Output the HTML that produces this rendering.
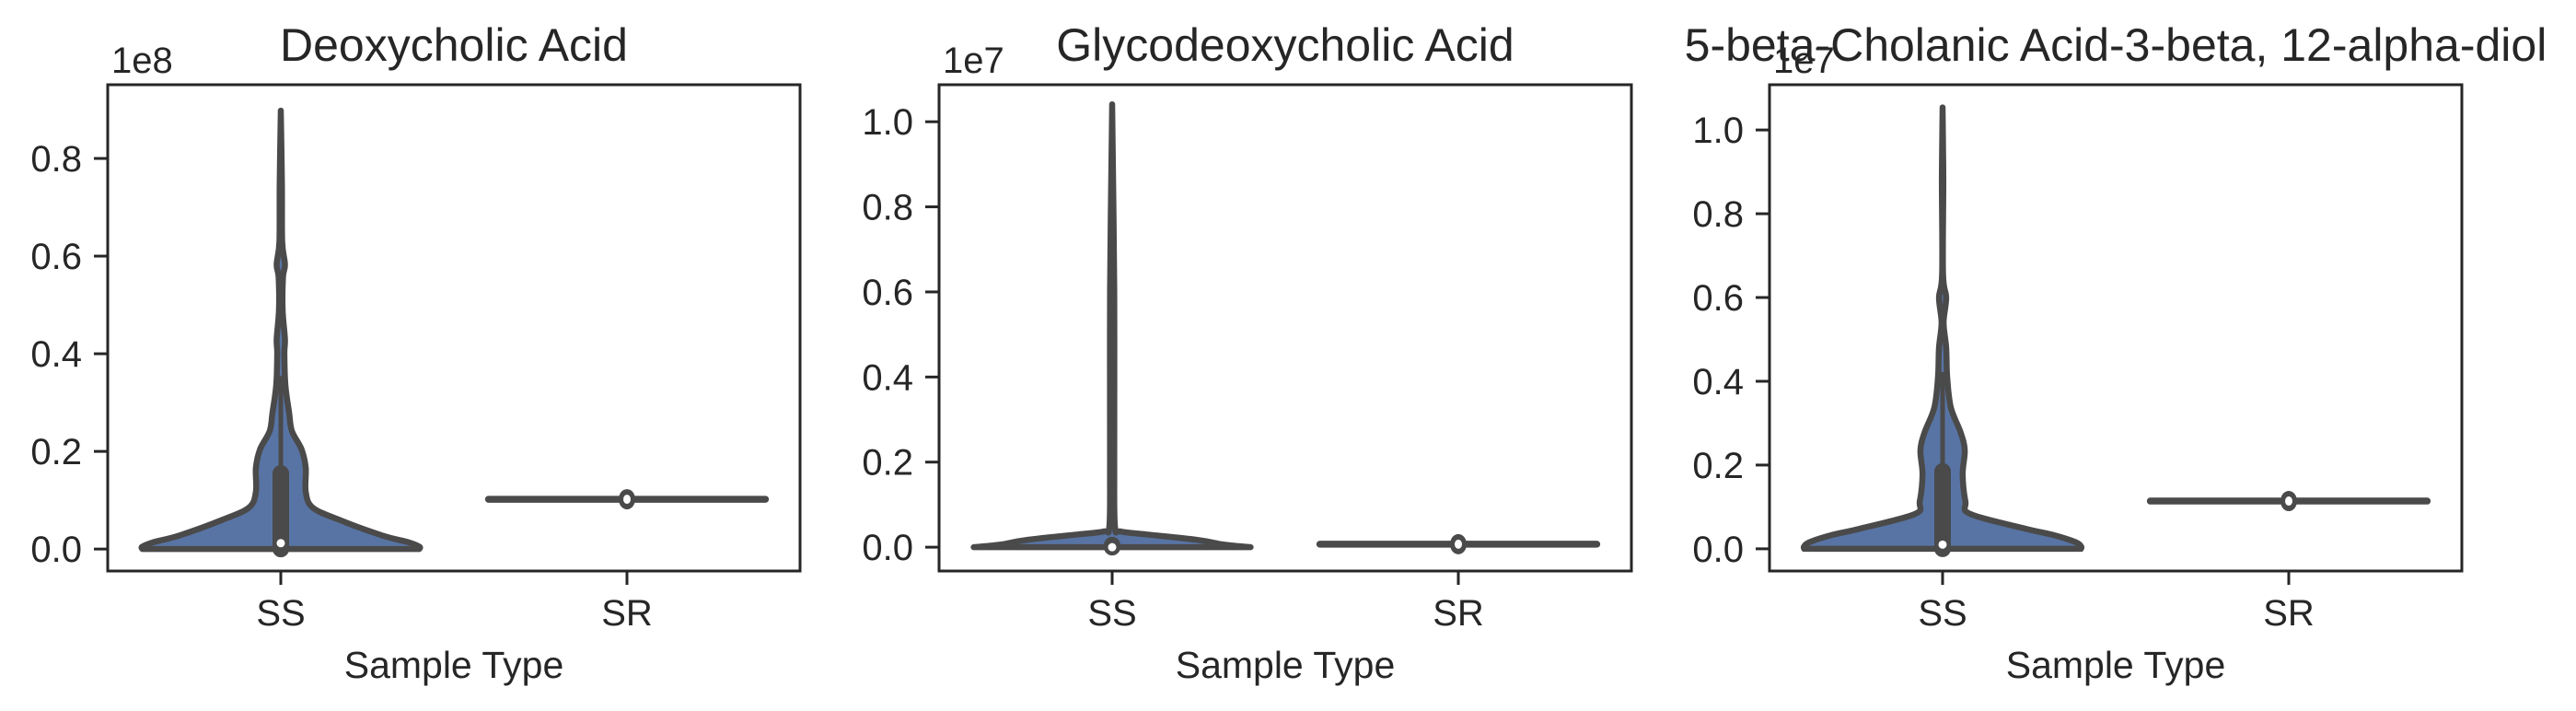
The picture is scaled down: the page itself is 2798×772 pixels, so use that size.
<!DOCTYPE html>
<html><head><meta charset="utf-8"><style>
html,body{margin:0;padding:0;background:#fff;}
svg{display:block;font-family:"Liberation Sans",Arial,sans-serif;}
</style></head><body>
<svg id="fig" width="2798" height="772" viewBox="0 0 2798 772" xmlns="http://www.w3.org/2000/svg"></svg>
<script>
// ---- data ----
const categories = ["SS", "SR"];
const titles = ["Deoxycholic Acid", "Glycodeoxycholic Acid", "5-beta-Cholanic Acid-3-beta, 12-alpha-diol"];
const exponents = ["1e8", "1e7", "1e7"];
const yMins = [-0.045, -0.056, -0.053];
const yMaxs = [0.951, 1.087, 1.108];
const tickLabels1 = ["0.0", "0.2", "0.4", "0.6", "0.8"];
const tickLabels2 = ["0.0", "0.2", "0.4", "0.6", "0.8", "1.0"];
const tickLabels3 = ["0.0", "0.2", "0.4", "0.6", "0.8", "1.0"];
const tickValues1 = [0, 0.2, 0.4, 0.6, 0.8];
const tickValues2 = [0, 0.2, 0.4, 0.6, 0.8, 1.0];
const tickValues3 = [0, 0.2, 0.4, 0.6, 0.8, 1.0];
// SS violin density profiles (value, relative half-width)
const ssVals1 = [0, 0.005, 0.014, 0.028, 0.06, 0.085, 0.117, 0.166, 0.204, 0.242, 0.28, 0.336, 0.4, 0.43, 0.49, 0.557, 0.583, 0.63, 0.75, 0.898];
const ssWid1  = [1, 1, 0.92, 0.73, 0.42, 0.23, 0.18, 0.18, 0.15, 0.08, 0.06, 0.033, 0.026, 0.03, 0.013, 0.016, 0.03, 0.01, 0.008, 0];
const ssVals2 = [0, 0.006, 0.017, 0.03, 0.037, 0.05, 0.2, 0.6, 1.041];
const ssWid2  = [1, 0.81, 0.62, 0.25, 0.06, 0.02, 0.015, 0.015, 0];
const ssVals3 = [0, 0.006, 0.016, 0.033, 0.048, 0.083, 0.113, 0.178, 0.235, 0.278, 0.337, 0.41, 0.48, 0.54, 0.6, 0.657, 0.88, 1.054];
const ssWid3  = [1, 1, 0.96, 0.8, 0.6, 0.2, 0.165, 0.145, 0.16, 0.13, 0.06, 0.033, 0.026, 0.007, 0.026, 0.003, 0.005, 0];
// SS box stats: q1, q3, whisker top, median
const ssBox1 = [0, 0.155, 0.35, 0.012];
const ssBox2 = [0, 0.005, 0.012, 0.0];
const ssBox3 = [0, 0.185, 0.417, 0.01];
// SR values (near constant)
const srValues = [0.102, 0.007, 0.114];

// ---- layout ----
const NS = "http://www.w3.org/2000/svg";
const svg = document.getElementById("fig");
const panelLefts = [117, 1020, 1922];
const panelW = 752, plotTop = 92, plotBottom = 620;
const INK = "#262626", VC = "#4a4a4a", FILL = "#5874a4";
function mk(tag, attrs, parent) {
  const e = document.createElementNS(NS, tag);
  for (const k in attrs) e.setAttribute(k, attrs[k]);
  (parent || svg).appendChild(e);
  return e;
}
function smoothSeg(pts) {
  // Catmull-Rom to cubic bezier, returns path commands (without initial M)
  let d = "";
  for (let i = 0; i < pts.length - 1; i++) {
    const p0 = pts[Math.max(0, i - 1)], p1 = pts[i], p2 = pts[i + 1], p3 = pts[Math.min(pts.length - 1, i + 2)];
    const c1x = p1[0] + (p2[0] - p0[0]) / 6, c1y = p1[1] + (p2[1] - p0[1]) / 6;
    const c2x = p2[0] - (p3[0] - p1[0]) / 6, c2y = p2[1] - (p3[1] - p1[1]) / 6;
    d += " C" + c1x.toFixed(1) + "," + c1y.toFixed(1) + " " + c2x.toFixed(1) + "," + c2y.toFixed(1) + " " + p2[0].toFixed(1) + "," + p2[1].toFixed(1);
  }
  return d;
}
const panels = [
  {vals: ssVals1, wid: ssWid1, box: ssBox1, ticks: tickValues1, labels: tickLabels1},
  {vals: ssVals2, wid: ssWid2, box: ssBox2, ticks: tickValues2, labels: tickLabels2},
  {vals: ssVals3, wid: ssWid3, box: ssBox3, ticks: tickValues3, labels: tickLabels3}
];
panels.forEach((p, i) => {
  const L = panelLefts[i], R = L + panelW;
  const y = v => plotBottom - (v - yMins[i]) / (yMaxs[i] - yMins[i]) * (plotBottom - plotTop);
  const x = c => L + (c + 0.5) / categories.length * panelW;
  const halfMax = 0.4 * panelW / categories.length;
  const g = mk("g", {});
  
  
  // SS violin
  const cx = x(0);
  const right = p.vals.map((v, k) => [cx + p.wid[k] * halfMax, y(v)]);
  const left = p.vals.map((v, k) => [cx - p.wid[k] * halfMax, y(v)]).reverse();
  let d = "M" + right[0][0].toFixed(1) + "," + right[0][1].toFixed(1) + smoothSeg(right);
  d += " L" + left[0][0].toFixed(1) + "," + left[0][1].toFixed(1) + smoothSeg(left) + " Z";
  const vio = mk("path", {d: d, fill: FILL, stroke: VC, "stroke-width": 6.5, "stroke-linejoin": "round"}, g);
  
  
  const wh = mk("line", {x1: cx, x2: cx, y1: y(p.box[0]), y2: y(p.box[2]), stroke: VC, "stroke-width": 5, "stroke-linecap": "round"}, g);
  
  
  const bx = mk("line", {x1: cx, x2: cx, y1: y(p.box[0]), y2: y(p.box[1]), stroke: VC, "stroke-width": 18, "stroke-linecap": "round"}, g);
  
  
  const md = mk("circle", {cx: cx, cy: y(p.box[3]), r: 4.5, fill: "#fff"}, g);
  
  
  // SR violin (flat)
  const sx = x(1), sy = y(srValues[i]);
  const sr = mk("line", {x1: sx - halfMax, x2: sx + halfMax, y1: sy, y2: sy, stroke: VC, "stroke-width": 7.5, "stroke-linecap": "round"}, g);
  
  
  const srb = mk("ellipse", {cx: sx, cy: sy, rx: 9, ry: 11, fill: VC}, g);
  
  
  const srm = mk("ellipse", {cx: sx, cy: sy, rx: 4, ry: 5, fill: "#fff"}, g);
  
  
  // spines
  const fr = mk("rect", {x: L, y: plotTop, width: panelW, height: plotBottom - plotTop, fill: "none", stroke: INK, "stroke-width": 3}, g);
  
  
  // y ticks
  p.ticks.forEach((t, k) => {
    const ty = y(t);
    const tl = mk("line", {x1: L - 15, x2: L, y1: ty, y2: ty, stroke: INK, "stroke-width": 3}, g);
    
    
    const tx = mk("text", {x: L - 28, y: ty + 14, "text-anchor": "end", "font-size": 40, fill: INK}, g);
    tx.textContent = p.labels[k];
    
    
  });
  // x ticks
  categories.forEach((c, k) => {
    const tl = mk("line", {x1: x(k), x2: x(k), y1: plotBottom, y2: plotBottom + 15, stroke: INK, "stroke-width": 3}, g);
    
    
    const tx = mk("text", {x: x(k), y: 679, "text-anchor": "middle", "font-size": 40, fill: INK}, g);
    tx.textContent = c;
    
    
  });
  const xl = mk("text", {x: (L + R) / 2, y: 736, "text-anchor": "middle", "font-size": 41, fill: INK}, g);
  xl.textContent = "Sample Type";
  
  
  const ex = mk("text", {x: L + 4, y: 79, "font-size": 40, fill: INK}, g);
  ex.textContent = exponents[i];
  
  
  const ti = mk("text", {x: (L + R) / 2, y: 66, "text-anchor": "middle", "font-size": 50, fill: INK}, g);
  ti.textContent = titles[i];
  
  
});
</script>
</body></html>
